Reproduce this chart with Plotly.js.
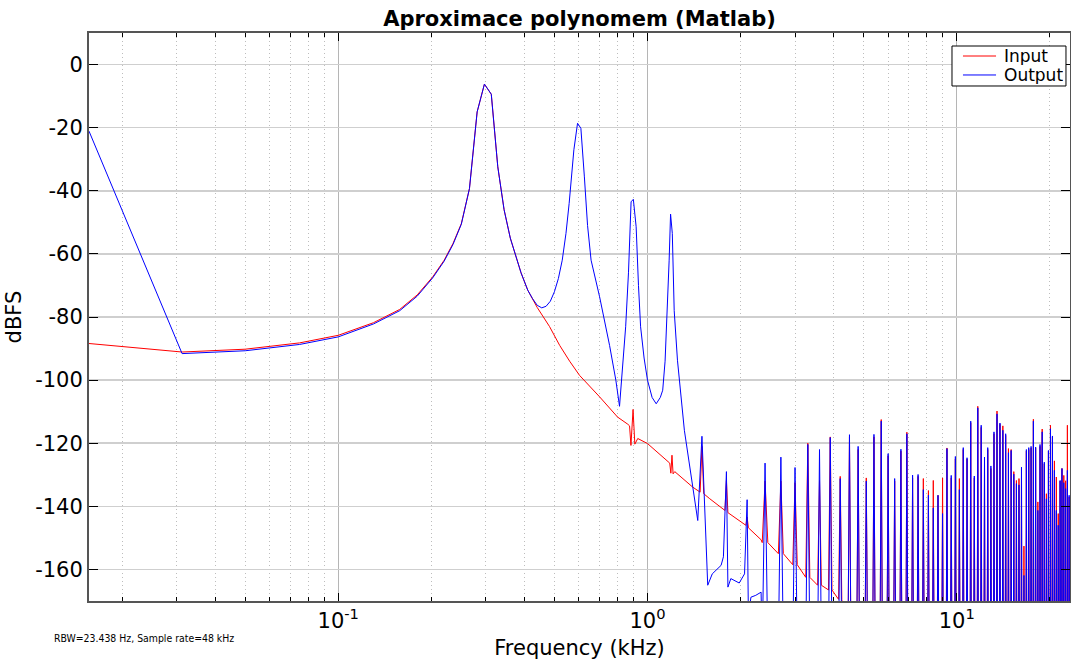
<!DOCTYPE html>
<html>
<head>
<meta charset="utf-8">
<script src="https://cdn.plot.ly/plotly-3.0.1.min.js"></script>
<style>html,body{margin:0;padding:0;background:#fff;}#chart{width:1071px;height:660px;}</style>
</head>
<body>
<div id="chart"></div>
<script>
// ---------- data (frequency in kHz, level in dBFS) ----------
// Input (red) – smooth part up to ~2.3 kHz
const inFreq = [0.015625,0.03125,0.05,0.075,0.1,0.13,0.158,0.18,0.202,0.22,0.235,0.25,0.2656,0.28125,0.296875,0.3125,0.328,0.34375,0.36,0.375,0.39,0.41,0.44,0.482,0.52,0.56,0.603,0.70,0.80,0.864,0.875,0.884,0.898,0.91,0.93,1.0,1.18,1.19,1.2,1.21,1.225,1.40,1.48,1.5,1.52,1.59,1.75,1.78,1.8,1.82,2.08,2.1,2.12,2.33];
const inDb   = [-88.4,-91.1,-90.2,-88.2,-85.8,-81.8,-77.6,-73,-67.3,-62,-56.7,-50.4,-39.3,-15,-6.2,-9.4,-32.4,-46,-55,-61,-66,-71.5,-77,-83,-89,-94,-98.5,-105.3,-111.7,-114,-114.5,-120.7,-109.3,-120.3,-118.5,-120.1,-126.3,-129.5,-123.8,-129.7,-129,-133.9,-135.5,-121,-136,-137.6,-140.7,-141.3,-131.8,-142,-146,-143.4,-146.8,-150.6];

// Output (blue) – smooth part up to ~2.3 kHz
const outFreq = [0.015625,0.03125,0.05,0.075,0.1,0.13,0.158,0.18,0.202,0.22,0.235,0.25,0.2656,0.28125,0.296875,0.3125,0.328,0.34375,0.36,0.375,0.39,0.41,0.425,0.44,0.455,0.47,0.485,0.50,0.515,0.53,0.545,0.558,0.568,0.578,0.594,0.609,0.625,0.64,0.657,0.68,0.70,0.754,0.79,0.812,0.83,0.85,0.868,0.885,0.90,0.919,0.935,0.95,0.975,1.0,1.035,1.067,1.10,1.12,1.14,1.16,1.175,1.1875,1.203,1.22,1.25,1.316,1.36,1.454,1.5,1.566,1.62,1.73,1.76,1.8,1.82,1.86,1.98,2.06,2.1,2.12,2.16,2.24,2.33];
const outDb   = [-21.1,-91.6,-90.7,-88.7,-86.3,-82.2,-78,-73.4,-67.6,-62.3,-57,-50.6,-39.3,-15,-6.2,-9.4,-32.4,-46,-55,-61,-66,-71.5,-74.2,-76.3,-77.1,-76.6,-75,-72,-67.8,-62,-53.5,-44,-35,-27,-18.6,-20.2,-35.6,-51,-62,-68.5,-73.6,-89,-100,-108.3,-96,-83.1,-66,-43.5,-42.7,-51.4,-70,-83.1,-93,-100,-105.5,-107.5,-105.5,-103.2,-94,-77.9,-62,-47.4,-53.5,-78,-93.7,-115.9,-125.4,-144.5,-117.8,-165,-161.4,-158.7,-156,-129,-165.6,-162.9,-164.3,-161.4,-137.9,-175,-168.8,-168.2,-167.2];

// Harmonic spikes (multiples of 0.3 kHz, 2.4 … 23.1 kHz)
const harmFreq = [2.4,2.7,3.0,3.3,3.6,3.9,4.2,4.5,4.8,5.1,5.4,5.7,6.0,6.3,6.6,6.9,7.2,7.5,7.8,8.1,8.4,8.7,9.0,9.3,9.6,9.9,10.2,10.5,10.8,11.1,11.4,11.7,12.0,12.3,12.6,12.9,13.2,13.5,13.8,14.1,14.4,14.7,15.0,15.3,15.6,15.9,16.2,16.5,16.8,17.1,17.4,17.7,18.0,18.3,18.6,18.9,19.2,19.5,19.8,20.1,20.4,20.7,21.0,21.3,21.6,21.9,22.2,22.5,22.8,23.1];
const outPeak = [-126.3,-124.4,-127.7,-120.4,-122,-118.2,-131.2,-117.3,-121,-132,-117.2,-113,-123.3,-131.2,-121.9,-117,-130.1,-129.9,-134.7,-136.5,-140.5,-136.5,-142.3,-121.7,-130.2,-124.2,-134.7,-121.4,-124.6,-113,-130.4,-108.8,-114.3,-124.4,-121.4,-127.2,-116.4,-110.7,-113.6,-115.9,-117,-123,-122.3,-129.8,-132.8,-133.2,-127.6,-161.9,-122,-121.4,-121,-113,-121.2,-141.3,-120.4,-116.4,-126,-137.6,-122.3,-115.4,-117.7,-128.6,-141.3,-146,-131.8,-128,-132.5,-134.4,-128.6,-136.5];
const inPeak  = [-132,-132,-132.5,-120,-131.8,-118,-130.5,-118,-122,-131,-118,-112.5,-124,-132,-122.5,-116.5,-131,-130.5,-131.2,-135,-131.8,-136.5,-131,-121.5,-131,-125,-131.2,-122,-125,-113.5,-131,-108.3,-115,-125,-122,-128,-117,-109.8,-114,-114.5,-117.5,-121.7,-122,-129,-131.8,-131.2,-128,-152.6,-122.5,-122,-121.5,-112.4,-121.5,-138.6,-121,-115.5,-126.5,-136,-122.5,-114.3,-118,-125.6,-130.7,-142.3,-132,-128,-130.2,-131.9,-114.3,-137];
// Input baseline at the foot of the first harmonics (later ones fall below the axis)
const inFootLow = [-151.5,-155,-158.5,-162.5,-165,-166.5,-169.5];
const BELOW_AXIS = -185;   // level between spikes, under the visible range

const seriesNames = ['Input', 'Output'];
const yTicks = [0,-20,-40,-60,-80,-100,-120,-140,-160];
const xTicks = [0.1,1,10];
const xTickText = ['10<sup>-1</sup>','10<sup>0</sup>','10<sup>1</sup>'];
const xMinor = [0.02,0.03,0.04,0.05,0.06,0.07,0.08,0.09,0.2,0.3,0.4,0.5,0.6,0.7,0.8,0.9,2,3,4,5,6,7,8,9,20];

// ---------- build series ----------
const SPIKE_HALF = 0.05; // kHz, half width of a spike's foot
function build(baseF, baseD, peaks, footFn) {
  const x = baseF.slice(), y = baseD.slice();
  for (let i = 0; i < harmFreq.length; i++) {
    const f = harmFreq[i], foot = footFn(i);
    x.push(f - SPIKE_HALF, f, f + SPIKE_HALF);
    y.push(foot, peaks[i], foot);
  }
  return {x, y};
}
const inS = build(inFreq, inDb, inPeak, i => (i < inFootLow.length ? inFootLow[i] : BELOW_AXIS));
const outS = build(outFreq, outDb, outPeak, () => BELOW_AXIS);

const FONT = 'DejaVu Sans, Verdana, sans-serif';
const COLORS = ['rgb(255,0,0)', 'rgb(0,0,255)'];

const traces = [
  {x: inS.x, y: inS.y, type: 'scatter', mode: 'lines', name: seriesNames[0],
   line: {color: COLORS[0], width: 1}},
  {x: outS.x, y: outS.y, type: 'scatter', mode: 'lines', name: seriesNames[1],
   line: {color: COLORS[1], width: 1}}
];

// legend box (Matlab-style compact legend) in paper coordinates
const LEG = {x0: 0.8797, x1: 0.9959, y0: 0.9067, y1: 0.9771, lx0: 0.8909, lx1: 0.9246, tx: 0.9314, rows: [0.9595, 0.9261]};
const shapes = [
  {type: 'rect', xref: 'paper', yref: 'paper', x0: LEG.x0, x1: LEG.x1, y0: LEG.y0, y1: LEG.y1,
   line: {color: '#000', width: 1}, fillcolor: '#fff', layer: 'above'}
];
const annotations = [{
  text: 'RBW=23.438 Hz, Sample rate=48 kHz', xref: 'paper', yref: 'paper',
  x: -0.0377, y: -0.0651, xanchor: 'left', yanchor: 'middle', showarrow: false,
  font: {family: 'DejaVu Sans Condensed, DejaVu Sans, sans-serif', size: 10.4, color: '#000'}
}];
seriesNames.forEach((nm, i) => {
  shapes.push({type: 'line', xref: 'paper', yref: 'paper', x0: LEG.lx0, x1: LEG.lx1, y0: LEG.rows[i], y1: LEG.rows[i],
               line: {color: COLORS[i], width: 1}, layer: 'above'});
  annotations.push({text: nm, xref: 'paper', yref: 'paper', x: LEG.tx, y: LEG.rows[i], xanchor: 'left', yanchor: 'middle',
                    showarrow: false, height: 18, borderpad: 0,
                    font: {family: FONT, size: 17, color: '#000'}});
});

const layout = {
  width: 1071, height: 660,
  margin: {l: 89, r: 1, t: 33, b: 59, pad: 0},
  paper_bgcolor: '#fff', plot_bgcolor: '#fff',
  font: {family: FONT, size: 21, color: '#000'},
  title: {text: 'Aproximace polynomem (Matlab)', font: {family: FONT, size: 21, weight: 'bold', color: '#000'},
          x: 0.5, xref: 'paper', xanchor: 'center', y: 0.972, yref: 'container', yanchor: 'middle'},
  showlegend: false,
  xaxis: {
    type: 'log', range: [Math.log10(0.015625), 1.3664], autorange: false,
    tickmode: 'array', tickvals: xTicks, ticktext: xTickText,
    ticks: 'inside', ticklen: 8, tickwidth: 1, tickcolor: '#000',
    showline: true, linecolor: '#555', linewidth: 2, mirror: 'allticks',
    showgrid: true, gridcolor: '#b5b5b5', gridwidth: 1,
    zeroline: false,
    tickfont: {family: FONT, size: 21, color: '#000'},
    minor: {tickmode: 'array', tickvals: xMinor, ticks: 'inside', ticklen: 4, tickcolor: '#000',
            showgrid: true, gridcolor: '#bdbdbd', gridwidth: 1, griddash: '1px,3px'},
    title: {text: 'Frequency (kHz)', font: {family: FONT, size: 21, color: '#000'}, standoff: 8}
  },
  yaxis: {
    range: [-170, 10], autorange: false,
    tickmode: 'array', tickvals: yTicks, ticktext: yTicks.map(String),
    ticks: 'inside', ticklen: 9, tickwidth: 1, tickcolor: '#000',
    showline: true, linecolor: '#555', linewidth: 2, mirror: 'ticks',
    showgrid: true, gridcolor: '#cfcfcf', gridwidth: 1.5,
    zeroline: false,
    tickfont: {family: FONT, size: 21, color: '#000'},
    title: {text: 'dBFS', font: {family: FONT, size: 21, color: '#000'}, standoff: 8}
  },
  shapes: shapes,
  annotations: annotations
};

Plotly.newPlot('chart', traces, layout, {staticPlot: true, displayModeBar: false});
</script>
</body>
</html>
